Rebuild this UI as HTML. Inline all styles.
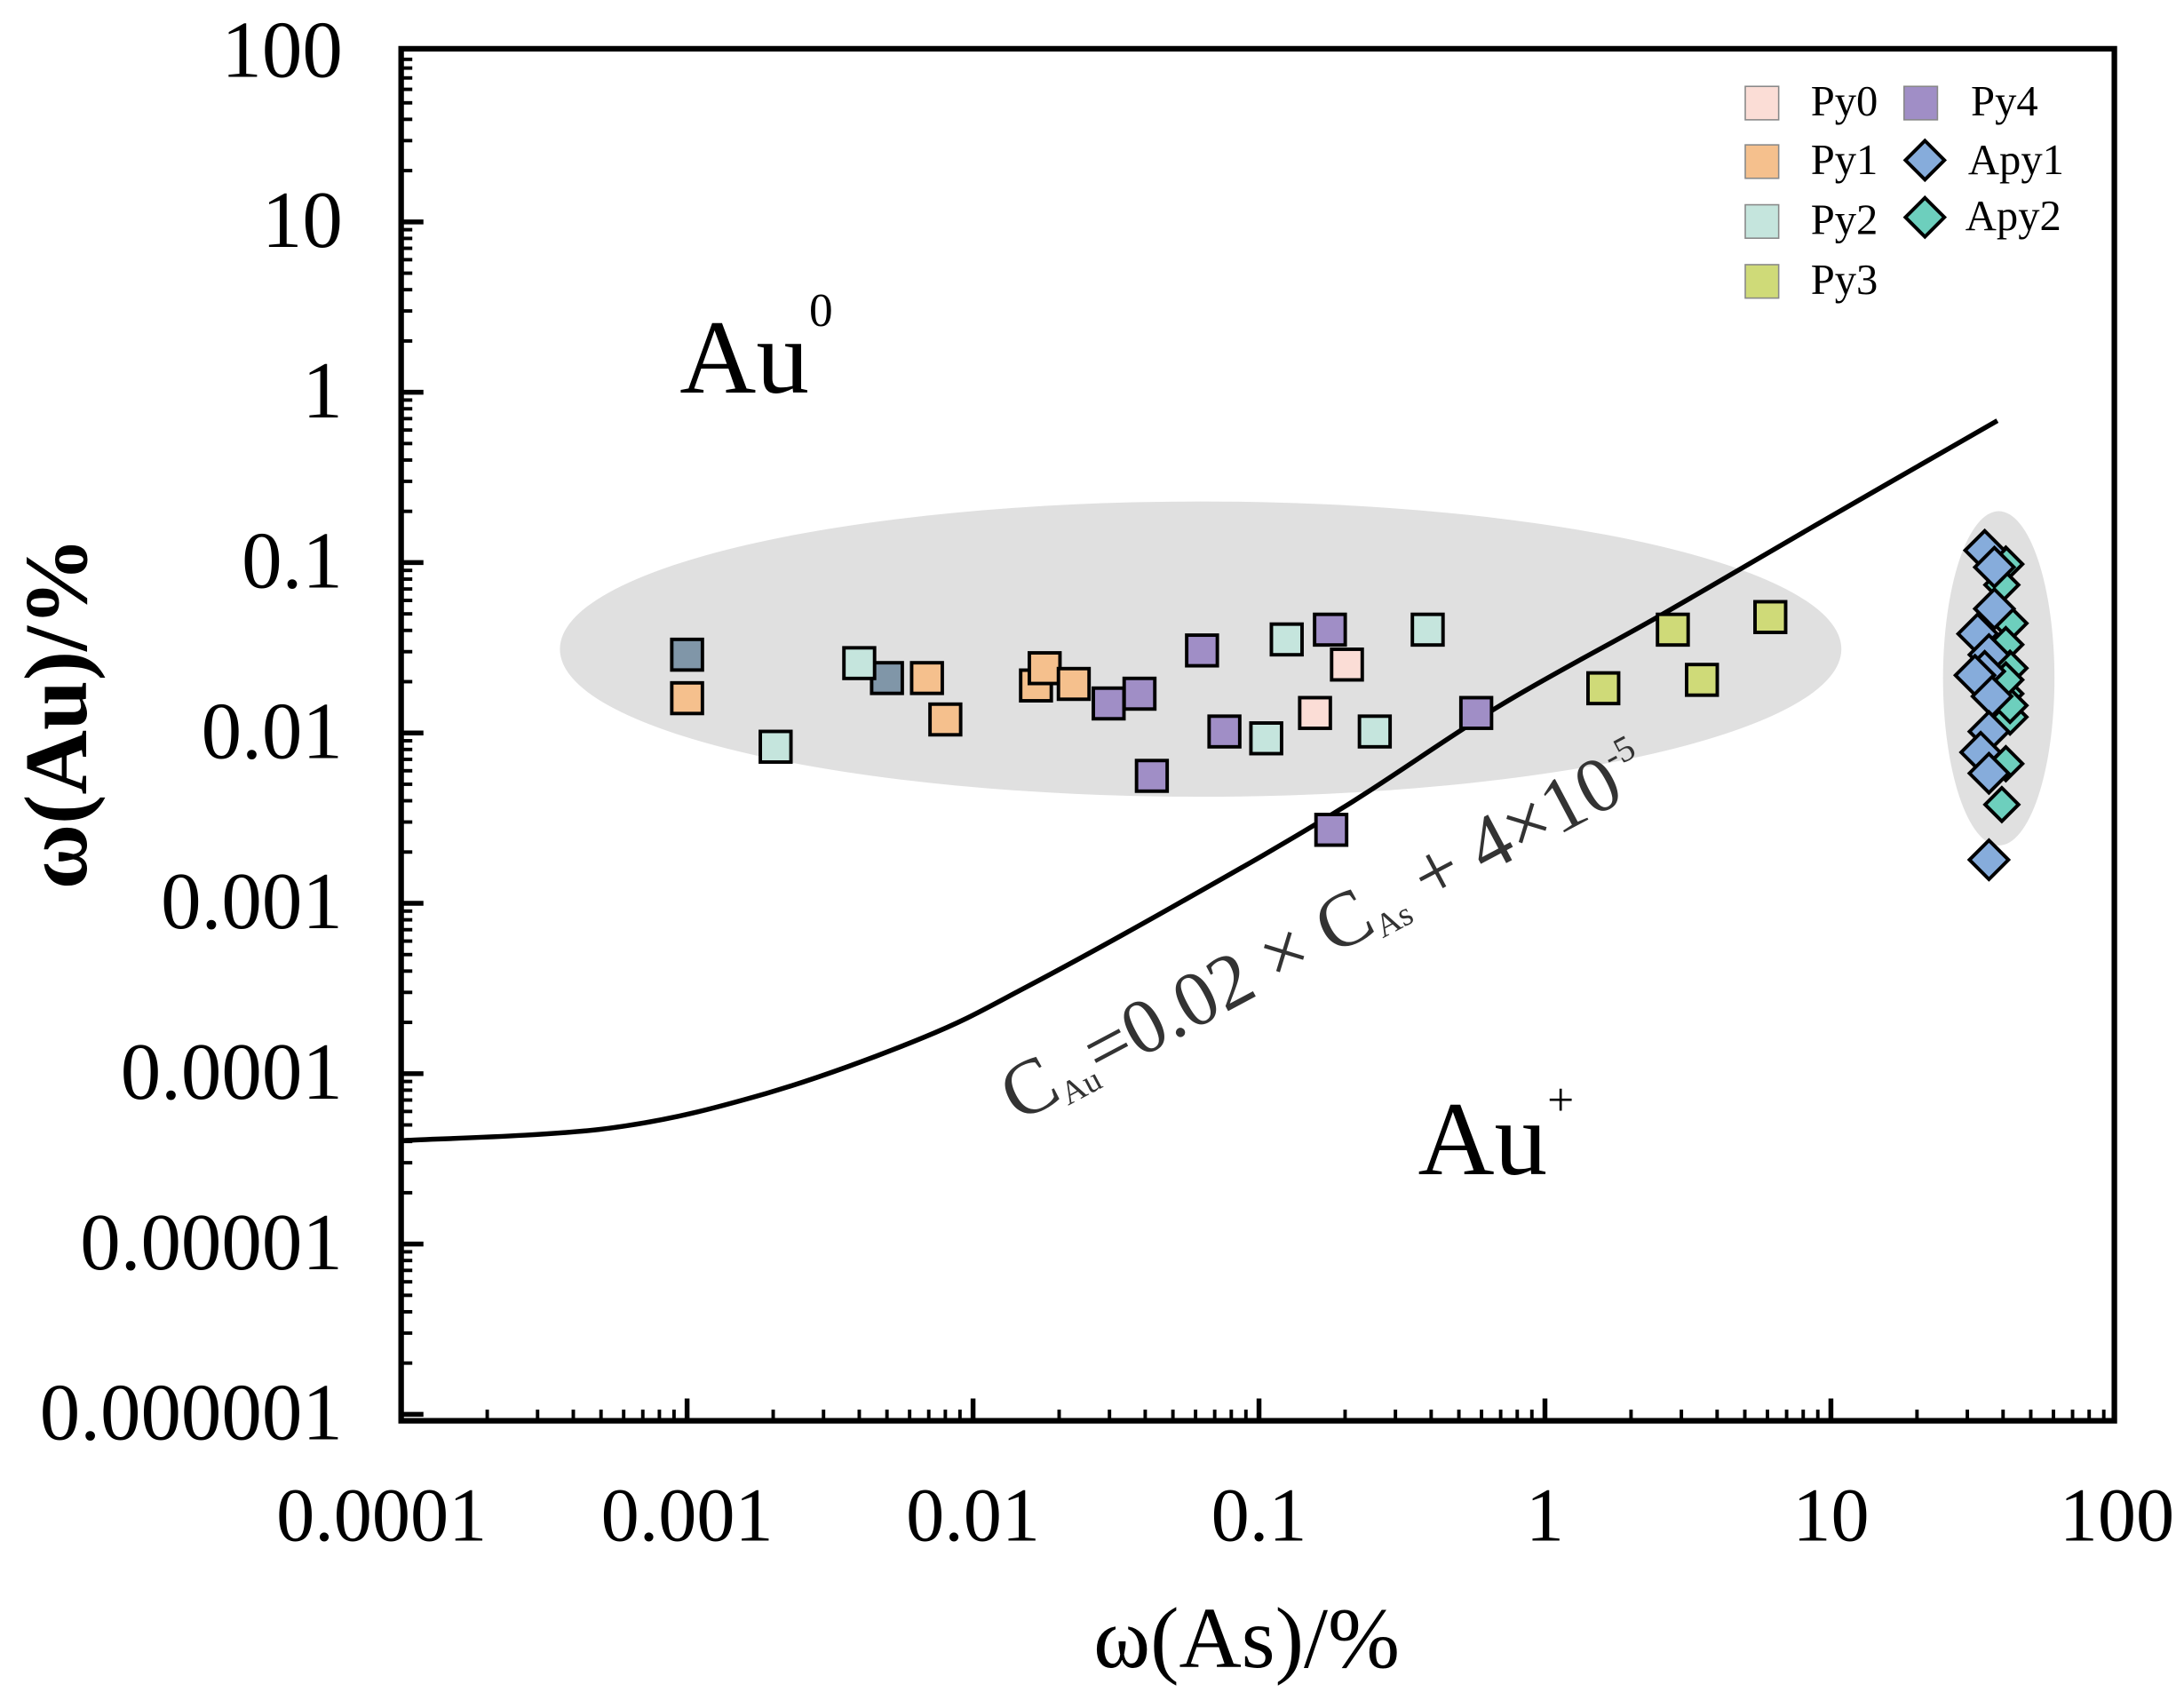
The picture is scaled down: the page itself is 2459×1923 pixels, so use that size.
<!DOCTYPE html>
<html><head><meta charset="utf-8"><style>
html,body{margin:0;padding:0;background:#fff;}
svg{display:block;}
text{font-family:"Liberation Serif",serif;}
</style></head><body>
<svg id="chart" width="2459" height="1923" viewBox="0 0 1568 1226.2" xmlns="http://www.w3.org/2000/svg">
<g id="bg"></g>
<g id="marks"></g>
<g id="axes"></g>
</svg>
<script>
const xTickLabels = ["0.0001","0.001","0.01","0.1","1","10","100"];
const yTickLabels = ["100","10","1","0.1","0.01","0.001","0.0001","0.00001","0.000001"];
const curveX = [0.0001, 0.000532, 0.00189, 0.00671, 0.01556, 0.0552, 0.196, 0.697, 2.48, 8.79, 38.2];
const curveY = [4.04e-5, 4.78e-5, 7.66e-5, 1.63e-4, 3.26e-4, 1.05e-3, 3.63e-3, 0.0145, 0.048, 0.165, 0.681];
const py0X = [0.203, 0.157];
const py0Y = [0.0252, 0.0131];
const py1X = [0.001, 0.0069, 0.0080, 0.0166, 0.0178, 0.0225];
const py1Y = [0.016, 0.021, 0.012, 0.019, 0.024, 0.0194];
const pyGreyX = [0.001, 0.005];
const pyGreyY = [0.0288, 0.021];
const py2X = [0.00204, 0.0040, 0.125, 0.106, 0.254, 0.389];
const py2Y = [0.0083, 0.0257, 0.0354, 0.0093, 0.0102, 0.0404];
const py3X = [1.60, 2.80, 3.54, 6.14];
const py3Y = [0.0183, 0.0404, 0.0205, 0.0479];
const py4X = [0.0298, 0.0382, 0.0632, 0.0757, 0.0422, 0.177, 0.575, 0.179];
const py4Y = [0.0149, 0.0170, 0.0305, 0.0102, 0.0056, 0.0404, 0.0131, 0.0027];
const apy1X = [34.5, 37.3, 32.6, 35.7, 34.5, 31.9, 36.6, 35.7, 33.4, 35.7, 35.7, 37.3];
const apy1Y = [0.118, 0.0536, 0.0382, 0.0288, 0.0230, 0.0218, 0.0164, 0.0102, 0.0077, 0.0058, 0.0018, 0.094];
const apy2X = [40.9, 39.6, 42.3, 40.9, 42.3, 40.9, 42.3, 40.9, 39.6, 42.3, 40.9];
const apy2Y = [0.098, 0.074, 0.044, 0.033, 0.024, 0.017, 0.0124, 0.0066, 0.0038, 0.0145, 0.0205];

const NS="http://www.w3.org/2000/svg";
const X0=288, X1=1518, Y0=35, Y1=1020;
function sx(v){return 288 + (Math.log10(v)+4)*205.3;}
function sy(v){return 37 + (2-Math.log10(v))*122.3;}
function mk(tag,attrs,parent){const e=document.createElementNS(NS,tag);for(const k in attrs)e.setAttribute(k,attrs[k]);parent.appendChild(e);return e;}
const bg=document.getElementById('bg'), marks=document.getElementById('marks'), axes=document.getElementById('axes');

let e;
e=mk('ellipse',{cx:862,cy:466,rx:460,ry:106,fill:'#e0e0e0'},bg);


e=mk('ellipse',{cx:1435,cy:487,rx:40,ry:120,fill:'#e0e0e0'},bg);



const pts=curveX.map((x,i)=>[sx(x),sy(curveY[i])]);
let d='M'+pts[0][0].toFixed(1)+','+pts[0][1].toFixed(1);
for(let i=0;i<pts.length-1;i++){
  const p0=pts[Math.max(0,i-1)],p1=pts[i],p2=pts[i+1],p3=pts[Math.min(pts.length-1,i+2)];
  const c1=[p1[0]+(p2[0]-p0[0])/6,p1[1]+(p2[1]-p0[1])/6];
  const c2=[p2[0]-(p3[0]-p1[0])/6,p2[1]-(p3[1]-p1[1])/6];
  d+=`C${c1[0].toFixed(1)},${c1[1].toFixed(1)} ${c2[0].toFixed(1)},${c2[1].toFixed(1)} ${p2[0].toFixed(1)},${p2[1].toFixed(1)}`;
}
e=mk('path',{d:d,fill:'none',stroke:'#000','stroke-width':3.5},marks);



function squares(xs,ys,fill,name){xs.forEach((x,i)=>{const s=mk('rect',{x:sx(x)-11,y:sy(ys[i])-11,width:22,height:22,fill:fill,stroke:'#000','stroke-width':2.5},marks);

});}
function diamonds(xs,ys,fill,name,r){xs.forEach((x,i)=>{const cx=sx(x),cy=sy(ys[i]);const s=mk('polygon',{points:`${cx},${cy-r} ${cx+r},${cy} ${cx},${cy+r} ${cx-r},${cy}`,fill:fill,stroke:'#000','stroke-width':2.5},marks);

});}
squares(py1X,py1Y,'#F5C08D','py1');
squares(pyGreyX,pyGreyY,'#8096A8','py-grey');
squares(py2X,py2Y,'#C5E5DD','py2');
squares(py0X,py0Y,'#FBDDD6','py0');
squares(py4X,py4Y,'#A08EC6','py4');
squares(py3X,py3Y,'#CFDA78','py3');
diamonds(apy2X,apy2Y,'#6DCFBD','apy2',12);
diamonds(apy1X,apy1Y,'#86ACDB','apy1',14);

e=mk('rect',{x:X0,y:Y0,width:X1-X0,height:Y1-Y0,fill:'none',stroke:'#000','stroke-width':4},axes);


for(let k=0;k<6;k++){for(let m=1;m<10;m++){const xv=Math.pow(10,-4+k)*m;const px=sx(xv);const L=m===1?16:8;mk('line',{x1:px,y1:Y1,x2:px,y2:Y1-L,stroke:'#000','stroke-width':m===1?3.5:2.5},axes);}}
for(let k=0;k<8;k++){for(let m=1;m<10;m++){const yv=Math.pow(10,-6+k)*m;const py=sy(yv);const L=m===1?16:8;mk('line',{x1:X0,y1:py,x2:X0+L,y2:py,stroke:'#000','stroke-width':m===1?3.5:2.5},axes);}}
xTickLabels.forEach((t,i)=>{const tx=mk('text',{x:sx(Math.pow(10,-4+i))+(i===0?-14:0),y:1106,'font-size':55,'text-anchor':'middle'},axes);tx.textContent=t;

});
yTickLabels.forEach((t,i)=>{const tx=mk('text',{x:246,y:sy(Math.pow(10,2-i))+18,'font-size':58,'text-anchor':'end'},axes);tx.textContent=t;

});
</script>
<svg style="position:absolute;left:0;top:0" width="2459" height="1923" viewBox="0 0 1568 1226.2" xmlns="http://www.w3.org/2000/svg">
<text x="895" y="1197" font-size="62" text-anchor="middle" font-family="Liberation Serif, serif">ω(As)/%</text>
<text transform="translate(62,512) rotate(-90)" font-size="64" font-weight="bold" text-anchor="middle" font-family="Liberation Serif, serif">ω(Au)/%</text>
<text x="488" y="282" font-size="76" font-family="Liberation Serif, serif">Au<tspan font-size="34" dy="-48">0</tspan></text>
<text x="1018" y="843" font-size="76" font-family="Liberation Serif, serif">Au<tspan font-size="34" dy="-42">+</tspan></text>
<text transform="translate(731,806) rotate(-28)" font-size="56" fill="#333" font-family="Liberation Serif, serif">C<tspan font-size="24" dy="6">Au</tspan><tspan dy="-6">=0.02 × C</tspan><tspan font-size="24" dy="6">As</tspan><tspan dy="-6"> + 4×10</tspan><tspan font-size="26" dy="-24">-5</tspan></text>
<g font-family="Liberation Serif, serif" font-size="31">
<rect x="1253" y="62" width="24" height="24" fill="#FBDDD6" stroke="#888" stroke-width="1"/>
<text x="1300" y="83">Py0</text>
<rect x="1253" y="104" width="24" height="24" fill="#F5C08D" stroke="#888" stroke-width="1"/>
<text x="1300" y="125">Py1</text>
<rect x="1253" y="147" width="24" height="24" fill="#C5E5DD" stroke="#888" stroke-width="1"/>
<text x="1300" y="168">Py2</text>
<rect x="1253" y="190" width="24" height="24" fill="#CFDA78" stroke="#888" stroke-width="1"/>
<text x="1300" y="211">Py3</text>
<rect x="1367" y="62" width="24" height="24" fill="#A08EC6" stroke="#888" stroke-width="1"/>
<text x="1415" y="83">Py4</text>
<polygon points="1382,101 1396,115 1382,129 1368,115" fill="#86ACDB" stroke="#000" stroke-width="2.5"/>
<text x="1413" y="125">Apy1</text>
<polygon points="1382,142 1396,156 1382,170 1368,156" fill="#6DCFBD" stroke="#000" stroke-width="2.5"/>
<text x="1411" y="165">Apy2</text>
</g>
</svg>
</body></html>
